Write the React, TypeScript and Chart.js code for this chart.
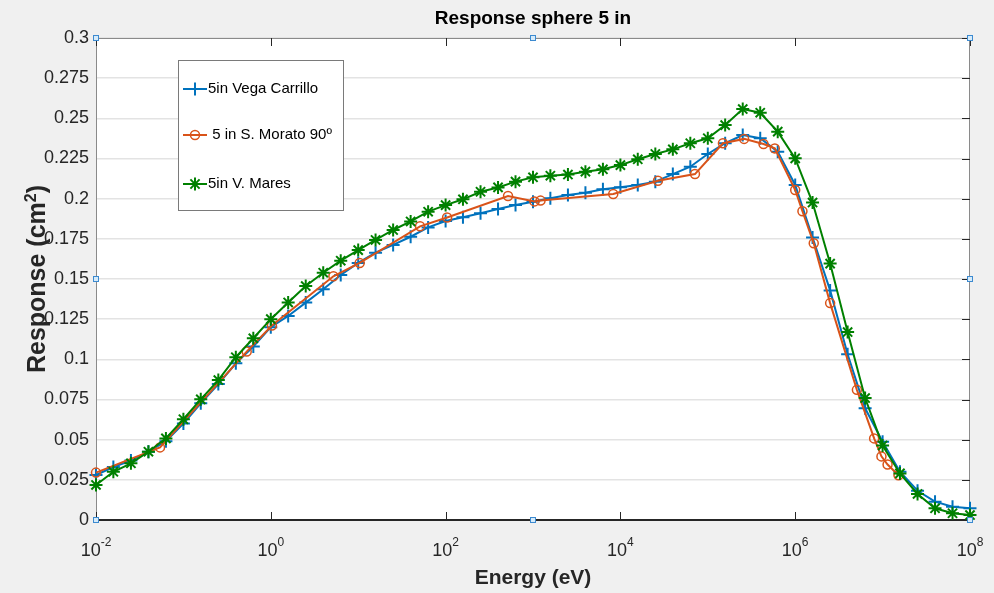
import React, { useEffect, useRef } from "react";
import { Chart, registerables } from "chart.js";

Chart.register(...registerables);

// Energy grid (eV) shared by the Vega Carrillo and V. Mares series
const ENERGY_GRID = [
  0.01, 0.0158, 0.0251, 0.0398, 0.0631, 0.1, 0.158, 0.251, 0.398, 0.631,
  1, 1.58, 2.51, 3.98, 6.31, 10, 15.8, 25.1, 39.8, 63.1,
  100, 158, 251, 398, 631, 1000, 1580, 2510, 3980, 6310,
  1e4, 1.58e4, 2.51e4, 3.98e4, 6.31e4, 1e5, 1.58e5, 2.51e5, 3.98e5, 6.31e5,
  1e6, 1.58e6, 2.51e6, 3.98e6, 6.31e6, 1e7, 1.58e7, 2.51e7, 3.98e7, 6.31e7,
  1e8,
];

const VEGA_CARRILLO = [
  0.028, 0.033, 0.037, 0.0425, 0.049, 0.06, 0.0726, 0.0846, 0.0975, 0.108,
  0.12, 0.127, 0.1353, 0.1436, 0.1525, 0.16, 0.1664, 0.1712, 0.1763, 0.1821,
  0.1861, 0.1884, 0.1909, 0.1936, 0.1961, 0.1981, 0.2002, 0.2023, 0.2037, 0.2058,
  0.2071, 0.2085, 0.2106, 0.2153, 0.2199, 0.2278, 0.2345, 0.2396, 0.2376, 0.2292,
  0.2085, 0.1758, 0.1429, 0.1032, 0.0695, 0.0487, 0.0301, 0.0182, 0.0114, 0.0083,
  0.0073,
];

const V_MARES = [
  0.0218, 0.03, 0.0353, 0.0425, 0.0508, 0.0627, 0.0751, 0.0871, 0.1013, 0.1131,
  0.125, 0.1354, 0.1456, 0.1539, 0.1614, 0.168, 0.1743, 0.1805, 0.1858, 0.1919,
  0.196, 0.1996, 0.2043, 0.207, 0.2106, 0.2133, 0.2143, 0.215, 0.2168, 0.2183,
  0.2209, 0.2245, 0.2278, 0.2307, 0.2345, 0.2376, 0.2458, 0.2558, 0.2535, 0.2417,
  0.2251, 0.1976, 0.1596, 0.117, 0.0759, 0.0464, 0.029, 0.0162, 0.0073, 0.0042,
  0.0031,
];

// S. Morato 90º series (own energies)
const MORATO_ENERGY = [
  0.01, 0.054, 0.53, 1.03, 5.2, 10.4, 51, 104, 518, 1040,
  1220, 8280, 26900, 71300, 149000, 260000, 434000, 584000, 1.0e6, 1.21e6,
  1.63e6, 2.51e6, 5.08e6, 8.0e6, 9.7e6, 1.14e7, 1.52e7,
];
const MORATO = [
  0.0295, 0.0452, 0.1048, 0.121, 0.1517, 0.16, 0.1828, 0.1883, 0.2017, 0.1983,
  0.1988, 0.2029, 0.2112, 0.2153, 0.2345, 0.2372, 0.234, 0.2313, 0.2054, 0.1922,
  0.1722, 0.135, 0.081, 0.0508, 0.0396, 0.0345, 0.0278,
];

const X_TICKS = [1e-2, 1, 1e2, 1e4, 1e6, 1e8];
const SERIES_LABELS = ["5in Vega Carrillo", " 5 in S. Morato 90º", "5in V. Mares"];
const TITLE = "Response sphere 5 in";
const X_TITLE = "Energy (eV)";
const Y_TITLE = "Response (cm";

const BLUE = "#0072BD";
const ORANGE = "#D95319";
const GREEN = "#008000";
const FONT = "'Liberation Sans', Arial, sans-serif";

function drawMarker(ctx: CanvasRenderingContext2D, style: string, x: number, y: number, r: number, color: string, lw: number) {
  ctx.save();
  ctx.strokeStyle = color;
  ctx.lineWidth = lw;
  ctx.beginPath();
  if (style === "circle") {
    ctx.arc(x, y, r, 0, Math.PI * 2);
  } else {
    ctx.moveTo(x - r, y);
    ctx.lineTo(x + r, y);
    ctx.moveTo(x, y - r);
    ctx.lineTo(x, y + r);
    if (style === "star") {
      const d = r * Math.SQRT1_2;
      ctx.moveTo(x - d, y - d);
      ctx.lineTo(x + d, y + d);
      ctx.moveTo(x - d, y + d);
      ctx.lineTo(x + d, y - d);
    }
  }
  ctx.stroke();
  ctx.restore();
}

const decorPlugin = {
  id: "matlabDecor",
  beforeDraw(chart: any) {
    const { ctx, chartArea: a, width, height } = chart;
    ctx.save();
    ctx.fillStyle = "#f0f0f0";
    ctx.fillRect(0, 0, width, height);
    ctx.fillStyle = "#ffffff";
    ctx.fillRect(a.left, a.top, a.right - a.left, a.bottom - a.top);
    ctx.restore();
  },
  beforeDatasetsDraw(chart: any) {
    const { ctx, chartArea: a } = chart;
    const xs = chart.scales.x;
    const ys = chart.scales.y;
    ctx.save();
    ctx.strokeStyle = "#8a8a8a";
    ctx.lineWidth = 1;
    ctx.beginPath();
    ctx.moveTo(a.left + 0.5, a.bottom);
    ctx.lineTo(a.left + 0.5, a.top + 0.5);
    ctx.lineTo(a.right - 0.5, a.top + 0.5);
    ctx.lineTo(a.right - 0.5, a.bottom);
    ctx.stroke();
    ctx.strokeStyle = "#262626";
    ctx.lineWidth = 2;
    ctx.beginPath();
    ctx.moveTo(a.left, a.bottom);
    ctx.lineTo(a.right, a.bottom);
    ctx.stroke();
    ctx.strokeStyle = "#262626";
    ctx.lineWidth = 1;
    ctx.beginPath();
    ys.ticks.forEach((t: any) => {
      const y = Math.round(ys.getPixelForValue(t.value)) + 0.5;
      ctx.moveTo(a.right, y);
      ctx.lineTo(a.right - 8, y);
    });
    xs.ticks.forEach((t: any) => {
      const x = Math.round(xs.getPixelForValue(t.value)) + 0.5;
      ctx.moveTo(x, a.bottom);
      ctx.lineTo(x, a.bottom - 8);
      ctx.moveTo(x, a.top);
      ctx.lineTo(x, a.top + 8);
    });
    ctx.stroke();
    ctx.restore();
  },
  afterDraw(chart: any) {
    const { ctx, chartArea: a } = chart;
    const xs = chart.scales.x;
    ctx.save();
    ctx.fillStyle = "#262626";
    xs.ticks.forEach((t: any) => {
      const px = xs.getPixelForValue(t.value);
      const exp = String(Math.round(Math.log10(t.value)));
      ctx.font = `18px ${FONT}`;
      const wb = ctx.measureText("10").width;
      ctx.font = `12px ${FONT}`;
      const we = ctx.measureText(exp).width;
      const left = px - (wb + we) / 2;
      ctx.textBaseline = "alphabetic";
      ctx.textAlign = "left";
      ctx.font = `18px ${FONT}`;
      ctx.fillText("10", left, 556);
      ctx.font = `12px ${FONT}`;
      ctx.fillText(exp, left + wb, 546);
    });
    ctx.fillStyle = "#000000";
    ctx.textAlign = "center";
    ctx.textBaseline = "middle";
    ctx.font = `bold 19px ${FONT}`;
    ctx.fillText(TITLE, (a.left + a.right) / 2, 19);
    ctx.fillStyle = "#262626";
    ctx.font = `bold 21px ${FONT}`;
    ctx.fillText(X_TITLE, (a.left + a.right) / 2, 578);
    // y title
    ctx.save();
    ctx.translate(36, (a.top + a.bottom) / 2);
    ctx.rotate(-Math.PI / 2);
    ctx.font = `bold 25px ${FONT}`;
    const w1 = ctx.measureText(Y_TITLE).width;
    ctx.font = `bold 16px ${FONT}`;
    const w2 = ctx.measureText("2").width;
    ctx.font = `bold 25px ${FONT}`;
    const w3 = ctx.measureText(")").width;
    const tot = w1 + w2 + w3;
    ctx.textAlign = "left";
    ctx.textBaseline = "alphabetic";
    ctx.fillText(Y_TITLE, -tot / 2, 9);
    ctx.font = `bold 16px ${FONT}`;
    ctx.fillText("2", -tot / 2 + w1, 0);
    ctx.font = `bold 25px ${FONT}`;
    ctx.fillText(")", -tot / 2 + w1 + w2, 9);
    ctx.restore();

    // legend
    const lx = 178, ly = 60, lw = 165, lh = 150;
    ctx.fillStyle = "#ffffff";
    ctx.fillRect(lx, ly, lw, lh);
    ctx.strokeStyle = "#7a7a7a";
    ctx.lineWidth = 1;
    ctx.strokeRect(lx + 0.5, ly + 0.5, lw, lh);
    const rows = [89, 135, 184];
    chart.data.datasets.forEach((ds: any, i: number) => {
      const y = rows[i];
      ctx.strokeStyle = ds.borderColor;
      ctx.lineWidth = 2;
      ctx.beginPath();
      ctx.moveTo(183, y);
      ctx.lineTo(207, y);
      ctx.stroke();
      drawMarker(ctx, ds.pointStyle, 195, y, ds.pointStyle === "circle" ? 4.5 : 6.5, ds.borderColor, ds.pointStyle === "circle" ? 1.5 : 2);
      ctx.fillStyle = "#000000";
      ctx.font = `15px ${FONT}`;
      ctx.textAlign = "left";
      ctx.textBaseline = "middle";
      ctx.fillText(ds.label, 208, y);
    });

    // selection handles
    const hx = [a.left, (a.left + a.right) / 2, a.right];
    const hy = [a.top, (a.top + a.bottom) / 2, a.bottom];
    hx.forEach((x, i) => {
      hy.forEach((y, j) => {
        if (i === 1 && j === 1) return;
        ctx.fillStyle = "#d6ebfa";
        ctx.fillRect(Math.round(x) - 3, Math.round(y) - 3, 6, 6);
        ctx.strokeStyle = "#3c8ad0";
        ctx.lineWidth = 1;
        ctx.strokeRect(Math.round(x) - 2.5, Math.round(y) - 2.5, 5, 5);
      });
    });
    ctx.restore();
  },
};

export default function App() {
  const ref = useRef<HTMLCanvasElement | null>(null);
  useEffect(() => {
    if (!ref.current) return;
    const toPts = (xs: number[], ys: number[]) => xs.map((x, i) => ({ x, y: ys[i] }));
    const chart = new Chart(ref.current, {
      type: "line",
      data: {
        datasets: [
          {
            label: SERIES_LABELS[0],
            data: toPts(ENERGY_GRID, VEGA_CARRILLO),
            borderColor: BLUE,
            backgroundColor: BLUE,
            borderWidth: 2,
            pointStyle: "cross",
            pointRadius: 6.5,
            pointBorderWidth: 2,
            pointBorderColor: BLUE,
            order: 2,
            clip: false,
          } as any,
          {
            label: SERIES_LABELS[1],
            data: toPts(MORATO_ENERGY, MORATO),
            borderColor: ORANGE,
            backgroundColor: "rgba(0,0,0,0)",
            borderWidth: 2,
            pointStyle: "circle",
            pointRadius: 4.5,
            pointBorderWidth: 1.5,
            pointBorderColor: ORANGE,
            pointBackgroundColor: "rgba(0,0,0,0)",
            order: 1,
            clip: false,
          } as any,
          {
            label: SERIES_LABELS[2],
            data: toPts(ENERGY_GRID, V_MARES),
            borderColor: GREEN,
            backgroundColor: GREEN,
            borderWidth: 2,
            pointStyle: "star",
            pointRadius: 6.5,
            pointBorderWidth: 2,
            pointBorderColor: GREEN,
            order: 0,
            clip: false,
          } as any,
        ],
      },
      options: {
        responsive: false,
        animation: false,
        events: [],
        layout: { padding: { top: 38, right: 24, left: 0, bottom: 0 } },
        plugins: {
          legend: { display: false },
          title: { display: false },
          tooltip: { enabled: false },
        },
        elements: { line: { tension: 0 } },
        scales: {
          x: {
            type: "logarithmic",
            min: 1e-2,
            max: 1e8,
            afterBuildTicks: (s: any) => {
              s.ticks = X_TICKS.map((v) => ({ value: v }));
            },
            afterFit: (s: any) => {
              s.height = 73;
            },
            ticks: { display: false },
            grid: { display: false },
            border: { display: false },
          },
          y: {
            min: 0,
            max: 0.3,
            afterFit: (s: any) => {
              s.width = 96;
            },
            ticks: {
              stepSize: 0.025,
              padding: 7,
              color: "#262626",
              font: { family: FONT, size: 18 },
              callback: (v: any) => String(parseFloat(Number(v).toFixed(3))),
            },
            grid: { color: "#e3e3e3", lineWidth: 1.5, drawTicks: false },
            border: { display: false },
          },
        },
      } as any,
      plugins: [decorPlugin],
    });
    return () => chart.destroy();
  }, []);
  return (
    <div style={{ position: "fixed", left: 0, top: 0, width: 994, height: 593, background: "#f0f0f0" }}>
      <canvas ref={ref} width={994} height={593} style={{ display: "block" }} />
    </div>
  );
}
